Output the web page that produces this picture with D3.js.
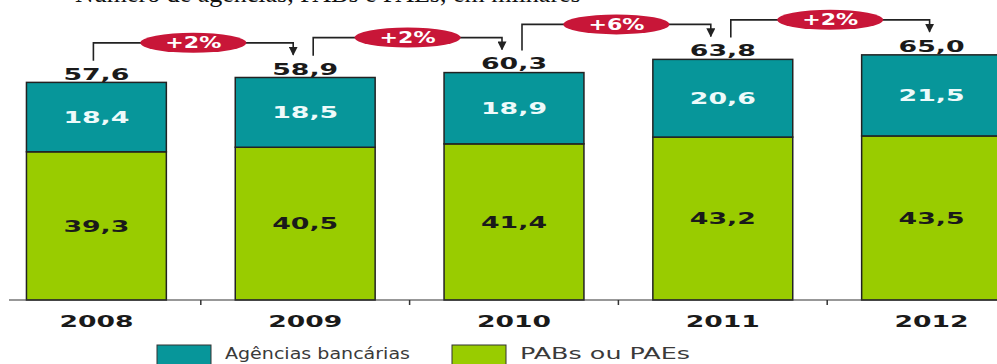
<!DOCTYPE html>
<html>
<head>
<meta charset="utf-8">
<script src="https://cdn.jsdelivr.net/npm/d3@7"></script>
<style>
  body { margin: 0; background: #fff; }
  svg { display: block; }
  .num { font-family: "DejaVu Sans", sans-serif; font-weight: bold; }
</style>
</head>
<body>
<svg width="997" height="364"></svg>
<script>
const years = ["2008", "2009", "2010", "2011", "2012"];
const agencias = [18.4, 18.5, 18.9, 20.6, 21.5];
const pabs = [39.3, 40.5, 41.4, 43.2, 43.5];
const totals = [57.6, 58.9, 60.3, 63.8, 65.0];
const growth = ["+2%", "+2%", "+6%", "+2%"];
const seriesNames = ["Agências bancárias", "PABs ou PAEs"];

const fmt = v => d3.format(".1f")(v).replace(".", ",");

const svg = d3.select("svg");
const teal = "#07969a";
const green = "#99cc00";
const ink = "#222";

const x = d3.scaleBand().domain(years).range([-8, 1036]).paddingInner(0.33).paddingOuter(0.165);
const y = d3.scaleLinear().domain([0, 70]).range([300, 36]);

// title (mostly cut off at the top)
svg.append("text")
    .attr("x", 75).attr("y", 2)
    .attr("font-family", "Liberation Serif, serif")
    .attr("font-size", 26)
    .attr("fill", "#111")
    .text("Número de agências, PABs e PAEs, em milhares");

const data = years.map((yr, i) => ({ year: yr, a: agencias[i], p: pabs[i], t: totals[i] }));

const bars = svg.append("g").selectAll("g").data(data).join("g");

bars.append("rect")
    .attr("x", d => x(d.year))
    .attr("width", x.bandwidth())
    .attr("y", d => y(d.p))
    .attr("height", d => y(0) - y(d.p))
    .attr("fill", green)
    .attr("stroke", ink).attr("stroke-width", 1.5);

bars.append("rect")
    .attr("x", d => x(d.year))
    .attr("width", x.bandwidth())
    .attr("y", d => y(d.p + d.a))
    .attr("height", d => y(d.p) - y(d.p + d.a))
    .attr("fill", teal)
    .attr("stroke", ink).attr("stroke-width", 1.5);

const cx = d => x(d.year) + x.bandwidth() / 2;

bars.append("text").attr("class", "num")
    .attr("x", cx)
    .attr("y", d => y(d.p / 2))
    .attr("dy", "0.36em")
    .attr("text-anchor", "middle")
    .attr("font-size", 16)
    .attr("textLength", 66).attr("lengthAdjust", "spacingAndGlyphs")
    .attr("fill", "#1a1a1a")
    .text(d => fmt(d.p));

bars.append("text").attr("class", "num")
    .attr("x", cx)
    .attr("y", d => y(d.p + d.a / 2))
    .attr("dy", "0.36em")
    .attr("text-anchor", "middle")
    .attr("font-size", 16)
    .attr("textLength", 66).attr("lengthAdjust", "spacingAndGlyphs")
    .attr("fill", "#eefafa")
    .text(d => fmt(d.a));

bars.append("text").attr("class", "num")
    .attr("x", cx)
    .attr("y", d => y(d.t) - 9)
    .attr("dy", "0.36em")
    .attr("text-anchor", "middle")
    .attr("font-size", 16)
    .attr("textLength", 66).attr("lengthAdjust", "spacingAndGlyphs")
    .attr("fill", "#1a1a1a")
    .text(d => fmt(d.t));

// axis
const axis = svg.append("g").attr("transform", `translate(0,${y(0)})`);
axis.append("line").attr("x1", 9).attr("x2", 997).attr("stroke", "#333").attr("stroke-width", 1.2);
axis.selectAll(".tk").data(years.slice(1)).join("line")
    .attr("x1", d => x(d) - x.step() * x.paddingInner() / 2)
    .attr("x2", d => x(d) - x.step() * x.paddingInner() / 2)
    .attr("y1", 0).attr("y2", 5)
    .attr("stroke", "#333").attr("stroke-width", 1.5);
axis.selectAll(".yr").data(years).join("text").attr("class", "num")
    .attr("x", d => x(d) + x.bandwidth() / 2)
    .attr("y", 22)
    .attr("dy", "0.36em")
    .attr("text-anchor", "middle")
    .attr("font-size", 15)
    .attr("textLength", 74).attr("lengthAdjust", "spacingAndGlyphs")
    .attr("fill", "#1a1a1a")
    .text(d => d);

// growth brackets
const defs = svg.append("defs");
defs.append("marker").attr("id", "arr")
    .attr("viewBox", "0 0 10 10").attr("refX", 9).attr("refY", 5)
    .attr("markerWidth", 9).attr("markerHeight", 9).attr("markerUnits", "userSpaceOnUse")
    .attr("orient", "auto")
    .append("path").attr("d", "M0,0L10,5L0,10Z").attr("fill", ink);

const brackets = growth.map((g, i) => {
    const a = data[i], b = data[i + 1];
    const x0 = cx(a) + (i === 0 ? -3 : 8);
    const x1 = cx(b) + (i === growth.length - 1 ? -2 : -12);
    const level = Math.min(y(a.t), y(b.t)) - 35;
    return { g, x0, x1, level, y0: y(a.t) - 22, y1: y(b.t) - 23 };
});

const br = svg.append("g").selectAll("g").data(brackets).join("g");
br.append("path")
    .attr("d", d => `M${d.x0},${d.y0}V${d.level}H${d.x1}V${d.y1}`)
    .attr("fill", "none").attr("stroke", ink).attr("stroke-width", 1.6)
    .attr("marker-end", "url(#arr)");
br.append("ellipse")
    .attr("cx", d => (d.x0 + d.x1) / 2).attr("cy", d => d.level)
    .attr("rx", 53).attr("ry", 10)
    .attr("fill", "#c81638");
br.append("text").attr("class", "num")
    .attr("x", d => (d.x0 + d.x1) / 2).attr("y", d => d.level)
    .attr("dy", "0.36em")
    .attr("text-anchor", "middle")
    .attr("font-size", 15)
    .attr("textLength", 56).attr("lengthAdjust", "spacingAndGlyphs")
    .attr("fill", "#fff")
    .text(d => d.g);

// legend
const legend = svg.append("g");
const legendItems = [
    { name: seriesNames[0], color: teal, x: 157, w: 185 },
    { name: seriesNames[1], color: green, x: 452, w: 170 }
];
const li = legend.selectAll("g").data(legendItems).join("g")
    .attr("transform", d => `translate(${d.x},345)`);
li.append("rect").attr("width", 54).attr("height", 22)
    .attr("fill", d => d.color).attr("stroke", "#333").attr("stroke-width", 1);
li.append("text")
    .attr("x", 68).attr("y", 9)
    .attr("dy", "0.36em")
    .attr("font-family", "DejaVu Sans, sans-serif")
    .attr("font-size", 15)
    .attr("textLength", d => d.w).attr("lengthAdjust", "spacingAndGlyphs")
    .attr("fill", "#3a3a3a")
    .text(d => d.name);
</script>
</body>
</html>
